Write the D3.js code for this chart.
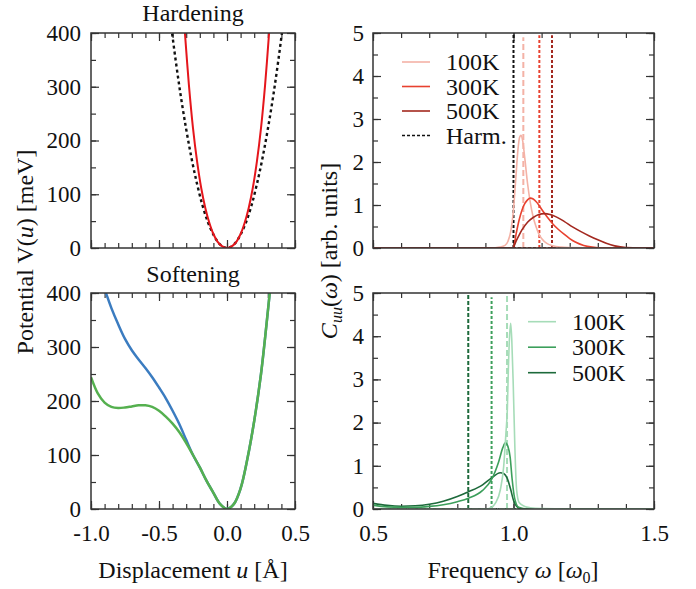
<!doctype html>
<html>
<head>
	<meta charset="utf-8">
	<title>Hardening / Softening</title>
	<script src="https://cdnjs.cloudflare.com/ajax/libs/d3/7.8.5/d3.min.js"></script>
	<style>
		body { margin: 0; background: #fff; }
		svg text { font-family: "Liberation Serif", "DejaVu Serif", serif; fill: #111; }
		.tick text { font-size: 23px; }
		.tick line { stroke: #333; stroke-width: 1.2; }
		.box { fill: none; stroke: #333; stroke-width: 1.5; }
	</style>
</head>
<body>
<script>
	// potentials (left column)
	var hardU = [-0.31, -0.28, -0.25, -0.22, -0.19, -0.16, -0.13, -0.10, -0.07, -0.04, 0, 0.04, 0.07, 0.10, 0.13, 0.16, 0.19, 0.22, 0.25, 0.28, 0.31];
	var hardV = [402, 303, 223, 161, 112, 75, 47, 26, 12, 4, 0, 4, 12, 26, 47, 75, 112, 161, 223, 303, 402];
	var harmU = [-0.42, -0.38, -0.34, -0.30, -0.26, -0.22, -0.18, -0.14, -0.10, -0.06, -0.02, 0, 0.02, 0.06, 0.10, 0.14, 0.18, 0.22, 0.26, 0.30, 0.34, 0.38, 0.42];
	var harmV = [432, 354, 283, 221, 166, 119, 79, 48, 25, 9, 1, 0, 1, 9, 25, 48, 79, 119, 166, 221, 283, 354, 432];

	var softU = [-1.0, -0.95, -0.90, -0.85, -0.80, -0.75, -0.70, -0.65, -0.60, -0.55, -0.50, -0.45, -0.40, -0.35, -0.30, -0.25, -0.20, -0.15, -0.10, -0.05, 0, 0.05, 0.10, 0.15, 0.20, 0.25, 0.30, 0.33];
	var softV = [244, 214, 197, 189, 187, 188, 190, 192, 192, 189, 182, 171, 158, 142, 122, 100, 77, 52, 30, 9, 0, 9, 38, 93, 163, 250, 365, 440];
	var blueU = [-0.93, -0.89, -0.85, -0.80, -0.75, -0.70, -0.65, -0.60, -0.55, -0.50, -0.45, -0.40, -0.35, -0.30, -0.25, -0.20, -0.15, -0.10, -0.05, 0, 0.05, 0.10, 0.15, 0.20, 0.25, 0.30, 0.33];
	var blueV = [430, 400, 372, 342, 315, 294, 277, 261, 244, 225, 205, 182, 157, 128, 100, 77, 52, 30, 9, 0, 9, 38, 93, 163, 250, 365, 440];

	// spectra, hardening (top right)
	var hw100 = [0.5, 0.92, 0.95, 0.97, 0.98, 0.99, 1.0, 1.008, 1.016, 1.022, 1.027, 1.033, 1.04, 1.05, 1.06, 1.07, 1.08, 1.09, 1.10, 1.12, 1.14, 1.17, 1.2, 1.3, 1.5];
	var hc100 = [0, 0, 0.02, 0.06, 0.15, 0.38, 0.9, 1.6, 2.3, 2.58, 2.62, 2.48, 2.1, 1.5, 1.05, 0.72, 0.5, 0.33, 0.22, 0.1, 0.05, 0.02, 0.01, 0, 0];
	var hw300 = [0.5, 0.995, 1.0, 1.01, 1.02, 1.03, 1.04, 1.05, 1.06, 1.07, 1.08, 1.09, 1.10, 1.12, 1.14, 1.16, 1.18, 1.20, 1.22, 1.25, 1.28, 1.32, 1.5];
	var hc300 = [0, 0, 0.02, 0.35, 0.65, 0.88, 1.03, 1.12, 1.16, 1.14, 1.08, 1.0, 0.9, 0.72, 0.56, 0.43, 0.32, 0.22, 0.14, 0.06, 0.02, 0, 0];
	var hw500 = [0.5, 0.995, 1.0, 1.01, 1.02, 1.03, 1.05, 1.07, 1.09, 1.11, 1.13, 1.15, 1.18, 1.21, 1.24, 1.27, 1.30, 1.33, 1.36, 1.40, 1.45, 1.5];
	var hc500 = [0, 0, 0.02, 0.17, 0.3, 0.42, 0.6, 0.71, 0.78, 0.8, 0.78, 0.73, 0.62, 0.49, 0.38, 0.28, 0.19, 0.11, 0.05, 0.01, 0, 0];
	var hSpikeW = [1.0, 1.035, 1.092, 1.137];
	var hSpikeH = [5.5, 4.9, 4.95, 4.95];

	// spectra, softening (bottom right)
	var sw100 = [0.5, 0.9, 0.92, 0.935, 0.953, 0.965, 0.973, 0.978, 0.982, 0.986, 0.99, 0.994, 0.999, 1.005, 1.011, 1.02, 1.04, 1.06, 1.1, 1.2, 1.5];
	var sc100 = [0, 0, 0.03, 0.13, 0.44, 0.98, 1.75, 2.3, 3.3, 4.0, 4.3, 3.9, 2.9, 1.4, 0.45, 0.15, 0.06, 0.03, 0.01, 0, 0];
	var sw300 = [0.5, 0.55, 0.6, 0.65, 0.7, 0.75, 0.8, 0.84, 0.89, 0.92, 0.947, 0.962, 0.971, 0.98, 0.988, 0.995, 1.004, 1.018, 1.05, 1.5];
	var sc300 = [0.09, 0.05, 0.04, 0.04, 0.06, 0.1, 0.17, 0.25, 0.43, 0.66, 1.09, 1.42, 1.53, 1.45, 1.2, 0.7, 0.25, 0.04, 0, 0];
	var sw500 = [0.5, 0.55, 0.6, 0.65, 0.7, 0.75, 0.8, 0.84, 0.89, 0.92, 0.953, 0.965, 0.977, 0.99, 1.0, 1.01, 1.03, 1.5];
	var sc500 = [0.13, 0.085, 0.065, 0.075, 0.11, 0.18, 0.29, 0.40, 0.56, 0.71, 0.84, 0.82, 0.72, 0.45, 0.2, 0.07, 0, 0];
	var sSpikeW = [0.977, 0.922, 0.839];
	var sSpikeH = [4.95, 4.9, 5.5];

	var labels = ['100K', '300K', '500K'];
	var reds = ['#f4b2a6', '#e8412f', '#a3281f'];
	var greens = ['#a6dcb8', '#3c9f5b', '#1d6a3b'];

	var serif = '"Liberation Serif", "DejaVu Serif", serif';

	var svg = d3.select('body').append('svg')
		.attr('width', 696)
		.attr('height', 589);

	var xL = d3.scaleLinear().domain([-1, 0.5]).range([91, 295]);
	var xR = d3.scaleLinear().domain([0.5, 1.5]).range([373, 654]);
	var yLT = d3.scaleLinear().domain([0, 400]).range([248, 33]);
	var yLB = d3.scaleLinear().domain([0, 400]).range([509, 293]);
	var yRT = d3.scaleLinear().domain([0, 5]).range([248, 33]);
	var yRB = d3.scaleLinear().domain([0, 5]).range([509, 293]);

	function zip(a, b) {
		return a.map(function (d, i) { return [d, b[i]]; });
	}

	// plain hyphen instead of the unicode minus
	function fx(d) {
		return d3.format('.1f')(d).replace('\u2212', '-');
	}

	var clipN = 0;
	function panel(x, y, opts) {
		var g = svg.append('g');
		var x0 = x.range()[0], x1 = x.range()[1], y0 = y.range()[1], y1 = y.range()[0];
		var id = 'clip' + (clipN++);
		svg.append('clipPath').attr('id', id).append('rect')
			.attr('x', x0).attr('y', y0).attr('width', x1 - x0).attr('height', y1 - y0);

		var minorX = d3.range(x.domain()[0], x.domain()[1] + 1e-9, 0.1);
		var yStep = y.domain()[1] === 5 ? 0.5 : 50;
		var minorY = d3.range(0, y.domain()[1] + 1e-9, yStep);
		var majorX = d3.range(x.domain()[0], x.domain()[1] + 1e-9, 0.5);
		var majorY = d3.range(0, y.domain()[1] + 1e-9, yStep * 2);

		function ax(axis, tr, vals, size, lab) {
			var a = g.append('g').attr('transform', tr)
				.call(axis.tickValues(vals).tickSize(size).tickFormat(lab ? lab : ''));
			a.attr('font-family', serif).attr('font-size', 23);
			a.select('.domain').remove();
			return a;
		}
		ax(d3.axisBottom(x).tickPadding(16), 'translate(0,' + y1 + ')', majorX, -8, opts.xLabels ? fx : null);
		ax(d3.axisBottom(x), 'translate(0,' + y1 + ')', minorX, -5, null);
		ax(d3.axisTop(x), 'translate(0,' + y0 + ')', majorX, -8, null);
		ax(d3.axisTop(x), 'translate(0,' + y0 + ')', minorX, -5, null);
		ax(d3.axisLeft(y).tickPadding(opts.pad), 'translate(' + x0 + ',0)', majorY, -8, d3.format('d'));
		ax(d3.axisLeft(y), 'translate(' + x0 + ',0)', minorY, -5, null);
		ax(d3.axisRight(y), 'translate(' + x1 + ',0)', majorY, -8, null);
		ax(d3.axisRight(y), 'translate(' + x1 + ',0)', minorY, -5, null);

		var plot = g.append('g').attr('clip-path', 'url(#' + id + ')');
		g.append('rect').attr('class', 'box')
			.attr('x', x0).attr('y', y0).attr('width', x1 - x0).attr('height', y1 - y0);
		return plot;
	}

	function curve(plot, x, y, pts, color, width, dash, kind) {
		var line = d3.line()
			.x(function (d) { return x(d[0]); })
			.y(function (d) { return y(d[1]); })
			.curve(kind || d3.curveLinear);
		plot.append('path')
			.datum(pts)
			.attr('d', line)
			.attr('fill', 'none')
			.attr('stroke', color)
			.attr('stroke-width', width)
			.attr('stroke-dasharray', dash || null);
	}

	// a sharp peak: flat dashed baseline plus a vertical dashed line
	function spike(plot, x, y, w, h, color, dash) {
		curve(plot, x, y, [[0.5, 0], [1.5, 0]], color, 1.8, dash);
		curve(plot, x, y, [[w, 0], [w, h]], color, 2, dash);
	}

	// top left: hardening potential
	var pLT = panel(xL, yLT, { xLabels: false, pad: 10 });
	curve(pLT, xL, yLT, zip(harmU, harmV), '#111', 2.4, '3,3', d3.curveCatmullRom);
	curve(pLT, xL, yLT, zip(hardU, hardV), '#e5161c', 2, null, d3.curveCatmullRom);

	// bottom left: softening potential
	var pLB = panel(xL, yLB, { xLabels: true, pad: 10 });
	curve(pLB, xL, yLB, zip(blueU, blueV), '#3b7cc0', 2.5, null, d3.curveCatmullRom);
	curve(pLB, xL, yLB, zip(softU, softV), '#55b04f', 2.5, null, d3.curveCatmullRom);

	// top right: hardening spectra
	var pRT = panel(xR, yRT, { xLabels: false, pad: 9 });
	spike(pRT, xR, yRT, hSpikeW[0], hSpikeH[0], '#111', '3,2');
	spike(pRT, xR, yRT, hSpikeW[1], hSpikeH[1], reds[0], '6,3');
	spike(pRT, xR, yRT, hSpikeW[2], hSpikeH[2], reds[1], '3,2');
	spike(pRT, xR, yRT, hSpikeW[3], hSpikeH[3], reds[2], '3,2');
	curve(pRT, xR, yRT, zip(hw100, hc100), reds[0], 1.6, null, d3.curveMonotoneX);
	curve(pRT, xR, yRT, zip(hw300, hc300), reds[1], 1.6, null, d3.curveMonotoneX);
	curve(pRT, xR, yRT, zip(hw500, hc500), reds[2], 1.6, null, d3.curveMonotoneX);

	// bottom right: softening spectra
	var pRB = panel(xR, yRB, { xLabels: true, pad: 9 });
	spike(pRB, xR, yRB, sSpikeW[2], sSpikeH[2], greens[2], '4,2');
	spike(pRB, xR, yRB, sSpikeW[1], sSpikeH[1], greens[1], '3,2');
	spike(pRB, xR, yRB, sSpikeW[0], sSpikeH[0], greens[0], '6,3');
	curve(pRB, xR, yRB, zip(sw500, sc500), greens[2], 1.6, null, d3.curveMonotoneX);
	curve(pRB, xR, yRB, zip(sw300, sc300), greens[1], 1.6, null, d3.curveMonotoneX);
	curve(pRB, xR, yRB, zip(sw100, sc100), greens[0], 1.6, null, d3.curveMonotoneX);

	// legends
	function legend(x0, yStart, step, cols, names, dashes) {
		names.forEach(function (n, i) {
			var yy = yStart + i * step;
			svg.append('line').attr('x1', x0).attr('x2', x0 + 28).attr('y1', yy).attr('y2', yy)
				.attr('stroke', cols[i]).attr('stroke-width', 1.6)
				.attr('stroke-dasharray', dashes[i] || null);
			svg.append('text').attr('x', x0 + 44).attr('y', yy + 8).attr('font-size', 24).text(n);
		});
	}
	legend(402, 62, 24.5, reds.concat(['#111']), labels.concat(['Harm.']), [null, null, null, '3,2']);
	legend(528, 321.7, 25.5, greens, labels, [null, null, null]);

	// titles and axis labels
	function txt(x, y, rot) {
		var t = svg.append('text').attr('font-size', 24).attr('text-anchor', 'middle');
		if (rot) t.attr('transform', 'translate(' + x + ',' + y + ') rotate(-90)');
		else t.attr('x', x).attr('y', y);
		return t;
	}
	txt(193, 21).text('Hardening');
	txt(193, 282).text('Softening');

	var t1 = txt(193, 578);
	t1.append('tspan').text('Displacement ');
	t1.append('tspan').attr('font-style', 'italic').text('u');
	t1.append('tspan').text(' [Å]');

	var t2 = txt(513, 578);
	t2.append('tspan').text('Frequency ');
	t2.append('tspan').attr('font-style', 'italic').text('ω');
	t2.append('tspan').text(' [');
	t2.append('tspan').attr('font-style', 'italic').text('ω');
	t2.append('tspan').attr('font-size', 16).attr('dy', 5).text('0');
	t2.append('tspan').attr('dy', -5).text(']');

	var t3 = txt(33, 252, true);
	t3.append('tspan').text('Potential V(');
	t3.append('tspan').attr('font-style', 'italic').text('u');
	t3.append('tspan').text(') [meV]');

	var t4 = txt(337, 251, true);
	t4.append('tspan').attr('font-style', 'italic').text('C');
	t4.append('tspan').attr('font-style', 'italic').attr('font-size', 16).attr('dy', 5).text('uu');
	t4.append('tspan').attr('dy', -5).text('(');
	t4.append('tspan').attr('font-style', 'italic').text('ω');
	t4.append('tspan').text(') [arb. units]');
</script>
</body>
</html>
